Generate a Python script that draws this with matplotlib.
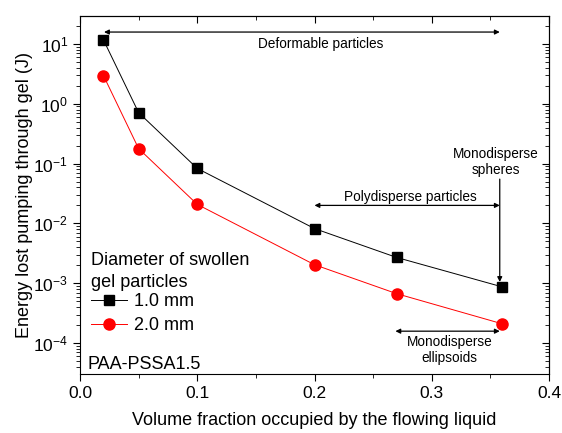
import numpy as np
import matplotlib.pyplot as plt

plt.rcParams['font.family'] = ['Liberation Sans', 'DejaVu Sans']
plt.rcParams['mathtext.fontset'] = 'custom'
plt.rcParams['mathtext.rm'] = 'Liberation Sans'
plt.rcParams['mathtext.it'] = 'Liberation Sans:italic'

# Data
phi = [0.02, 0.05, 0.1, 0.2, 0.27, 0.36]
energy_1mm = [11.7, 0.71, 0.083, 0.0082, 0.0027, 0.00087]
energy_2mm = [2.96, 0.178, 0.0208, 0.00204, 0.00067, 0.00021]
series_labels = ["1.0 mm", "2.0 mm"]

fig = plt.figure(figsize=(5.62, 4.33), dpi=100)
ax = fig.add_axes([80 / 562, 1 - 374 / 433, 469 / 562, 358 / 433])

ax.plot(phi, energy_1mm, color='black', lw=0.7, marker='s', ms=7.5,
        label=series_labels[0])
ax.plot(phi, energy_2mm, color='red', lw=0.7, marker='o', ms=8,
        label=series_labels[1])

ax.set_yscale('log')
ax.set_xlim(0, 0.4)
ax.set_ylim(3.04e-5, 29.3)
ax.set_xticks([0.0, 0.1, 0.2, 0.3, 0.4])
ax.set_xticks([0.05, 0.15, 0.25, 0.35], minor=True)
ax.set_xticklabels(["0.0", "0.1", "0.2", "0.3", "0.4"])

ax.tick_params(which='major', length=5, width=0.8, labelsize=12.5)
ax.tick_params(which='minor', length=3, width=0.6)
ax.tick_params(which='both', direction='out')
ax.yaxis.set_minor_locator(plt.matplotlib.ticker.LogLocator(subs=np.arange(2, 10), numticks=20))
ax.yaxis.set_minor_formatter(plt.NullFormatter())

# mirrored ticks on top/right pointing inward
secx = ax.secondary_xaxis('top')
secx.set_xticks([0.0, 0.1, 0.2, 0.3, 0.4])
secx.set_xticks([0.05, 0.15, 0.25, 0.35], minor=True)
secx.tick_params(which='both', direction='in', labeltop=False)
secx.tick_params(which='major', length=5)
secx.tick_params(which='minor', length=3)
secy = ax.secondary_yaxis('right')
secy.set_yscale('log')
secy.tick_params(which='both', direction='in', labelright=False)
secy.tick_params(which='major', length=5)
secy.tick_params(which='minor', length=3)

ax.set_xlabel("Volume fraction occupied by the flowing liquid", fontsize=13, labelpad=8)
ax.set_ylabel("Energy lost pumping through gel (J)", fontsize=13, labelpad=0)

arrow = dict(arrowstyle='<|-|>', color='black', lw=0.9,
             shrinkA=0, shrinkB=0, mutation_scale=7)

# Deformable particles
ax.annotate("", xy=(0.0205, 15.8), xytext=(0.358, 15.8), arrowprops=arrow)
ax.text(0.205, 10.0, "Deformable particles", fontsize=9.8, ha='center', va='center')

# Polydisperse particles
ax.annotate("", xy=(0.2, 0.02), xytext=(0.358, 0.02), arrowprops=arrow)
ax.text(0.282, 0.028, "Polydisperse particles", fontsize=9.8, ha='center', va='center')

# Monodisperse spheres
ax.annotate("", xy=(0.358, 0.00105), xytext=(0.358, 0.055),
            arrowprops=dict(arrowstyle='-|>', color='black', lw=0.9,
                            shrinkA=0, shrinkB=0, mutation_scale=7))
ax.text(0.355, 0.105, "Monodisperse\nspheres", fontsize=9.8, ha='center', va='center',
        linespacing=1.15)

# Monodisperse ellipsoids
ax.annotate("", xy=(0.269, 1.58e-4), xytext=(0.358, 1.58e-4), arrowprops=arrow)
ax.text(0.315, 7.6e-5, "Monodisperse\nellipsoids", fontsize=9.8, ha='center', va='center',
        linespacing=1.15)

ax.text(0.0065, 4.4e-5, "PAA-PSSA1.5", fontsize=13, ha='left', va='center')

# legend title drawn as its own text for control of line spacing
ax.text(0.0235, 0.342, "Diameter of swollen\ngel particles", transform=ax.transAxes,
        fontsize=13, ha='left', va='top', linespacing=1.42)
leg = ax.legend(loc='upper left', bbox_to_anchor=(0.0235, 0.225), frameon=False,
                fontsize=13, handlelength=2.0, handletextpad=0.4, labelspacing=0.38,
                borderpad=0, borderaxespad=0)

plt.savefig("out.png", dpi=100)
